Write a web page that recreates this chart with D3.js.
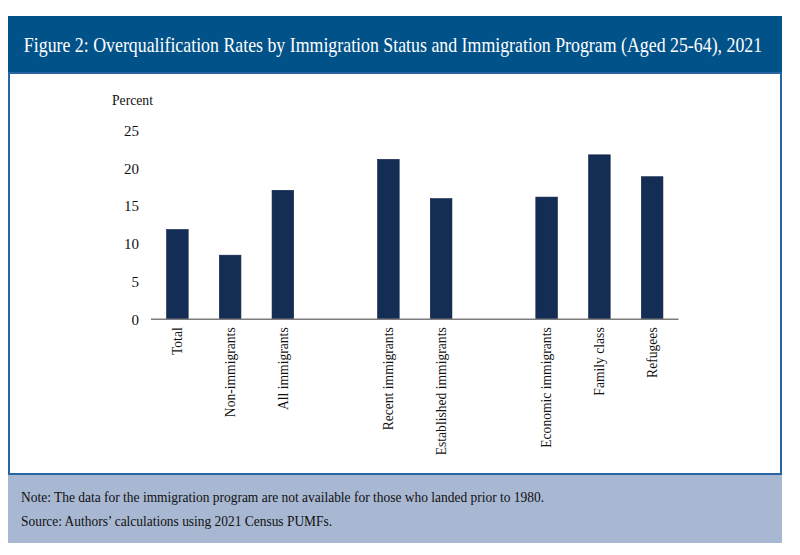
<!DOCTYPE html>
<html>
<head>
<meta charset="utf-8">
<script src="https://cdn.jsdelivr.net/npm/d3@7"></script>
<style>
  html, body { margin: 0; padding: 0; background: #fff; }
  svg { display: block; }
</style>
</head>
<body>
<svg id="chart" width="800" height="555"></svg>
<script>
const categories = ["Total", "Non-immigrants", "All immigrants", "gap1",
  "Recent immigrants", "Established immigrants", "gap2",
  "Economic immigrants", "Family class", "Refugees"];
const blanks = ["gap1", "gap2"];
const values = [11.9, 8.5, 17.1, null, 21.2, 16.0, null, 16.2, 21.8, 18.9];
const yTicks = [0, 5, 10, 15, 20, 25];
const titleText = "Figure 2: Overqualification Rates by Immigration Status and Immigration Program (Aged 25-64), 2021";
const yLabel = "Percent";
const noteLines = [
  "Note: The data for the immigration program are not available for those who landed prior to 1980.",
  "Source: Authors\u2019 calculations using 2021 Census PUMFs."
];
const noteWidths = [523, 311];

const FONT = "'Liberation Serif', 'Times New Roman', serif";

const data = categories.map((c, i) => ({ cat: c, value: values[i] }));

const svg = d3.select("#chart");

// fit a text's font size so its natural width equals target
function fitWidth(sel, base, target) {
  sel.style("font-size", base + "px");
  const w = sel.node().getComputedTextLength();
  sel.style("font-size", (base * target / w).toFixed(2) + "px");
}

// Title bar
svg.append("rect").attr("x", 8).attr("y", 16).attr("width", 774).attr("height", 57)
  .attr("fill", "#02528a");
const titleG = svg.append("g").attr("transform", "translate(393,52) scale(1,1.18)");
const title = titleG.append("text").attr("x", 0).attr("y", 0).attr("text-anchor", "middle")
  .style("font-family", FONT).style("fill", "#fff")
  .text(titleText);
fitWidth(title, 18, 738);

// Chart frame
svg.append("rect").attr("x", 9).attr("y", 73).attr("width", 772).attr("height", 401)
  .attr("fill", "#fff").attr("stroke", "#2a65a3").attr("stroke-width", 2);

// Footer
svg.append("rect").attr("x", 8).attr("y", 475).attr("width", 774).attr("height", 68)
  .attr("fill", "#a8b7d2");
noteLines.forEach((line, i) => {
  const g = svg.append("g").attr("transform", `translate(21,${502 + i * 24}) scale(1,1.08)`);
  const t = g.append("text").attr("x", 0).attr("y", 0)
    .style("font-family", FONT).style("fill", "#111").text(line);
  fitWidth(t, 14, noteWidths[i]);
});

// Scales
const p = 0.59;
const x = d3.scaleBand().domain(categories).range([151, 678.5])
  .paddingInner(p).paddingOuter(p / 2);
const y = d3.scaleLinear().domain([0, 25]).range([319.3, 130.7]);

// Y axis labels (no axis line)
const yAxis = d3.axisLeft(y).tickValues(yTicks).tickSize(0).tickPadding(0);
const yg = svg.append("g").attr("transform", "translate(139,0)").call(yAxis);
yg.select(".domain").remove();
yg.selectAll("text").style("font-size", "15px").style("font-family", FONT).style("fill", "#111");

const pl = svg.append("text").attr("x", 112).attr("y", 105)
  .style("font-family", FONT).style("fill", "#111")
  .text(yLabel);
fitWidth(pl, 14, 41);

// Bars
svg.append("g").selectAll("rect").data(data.filter(d => d.value !== null)).enter()
  .append("rect")
  .attr("x", d => x(d.cat))
  .attr("width", x.bandwidth())
  .attr("y", d => y(d.value))
  .attr("height", d => y(0) - y(d.value))
  .attr("fill", "#142d55")
  .attr("stroke", "#0d2244").attr("stroke-width", 0.6);

// X axis
const xAxis = d3.axisBottom(x).tickSize(0).tickPadding(0)
  .tickFormat(d => blanks.includes(d) ? "" : d);
const xg = svg.append("g").attr("transform", "translate(0,319.3)").call(xAxis);
xg.select(".domain").attr("stroke", "#7d7d7d").attr("stroke-width", 1.5)
  .attr("d", "M151,0H678.5");
xg.selectAll(".tick text")
  .style("font-size", "13.6px").style("font-family", FONT).style("fill", "#111")
  .attr("text-anchor", "end")
  .attr("transform", "rotate(-90)")
  .attr("x", -8).attr("y", 0).attr("dy", "0.35em");
</script>
</body>
</html>
